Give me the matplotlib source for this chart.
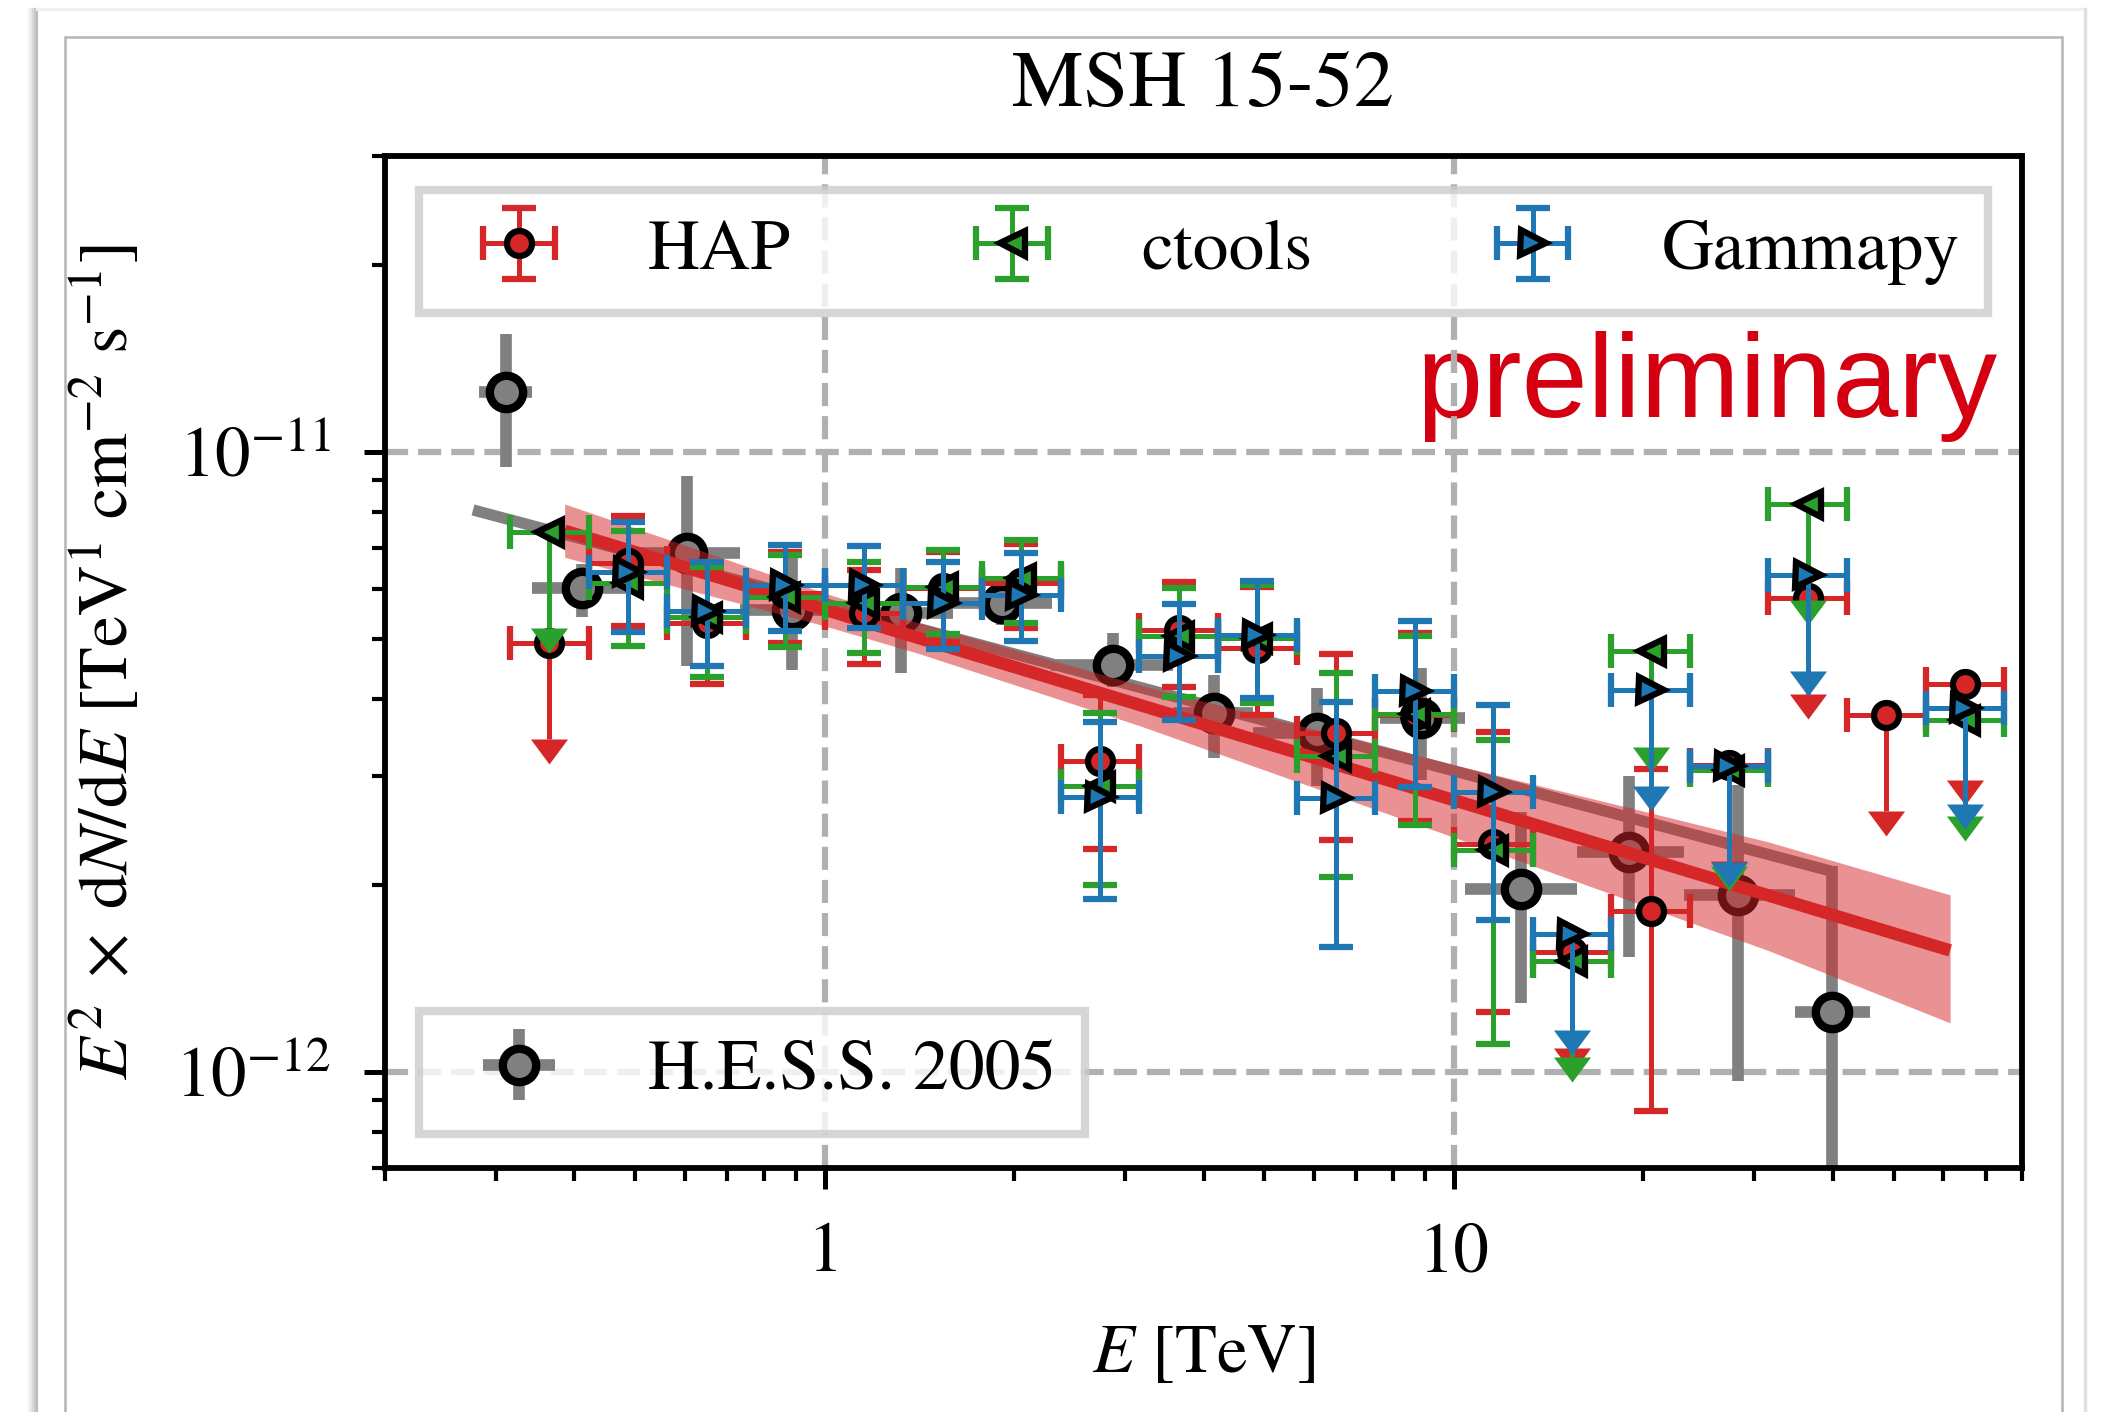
import numpy as np
import matplotlib.pyplot as plt
from matplotlib.lines import Line2D
from matplotlib.patches import Rectangle
from matplotlib.ticker import FuncFormatter, NullFormatter

plt.rcParams['font.family'] = 'serif'
plt.rcParams['font.serif'] = ['STIXGeneral', 'Liberation Serif']
plt.rcParams['mathtext.fontset'] = 'stix'
plt.rcParams['font.size'] = 17

nan = np.nan

# energy bins [TeV], 8 per decade
energy = [0.365, 0.487, 0.649, 0.866, 1.155, 1.540, 2.054, 2.738, 3.652, 4.870,
          6.494, 8.660, 11.55, 15.40, 20.54, 27.38, 36.52, 48.70, 64.94]
e_min = [0.316, 0.422, 0.562, 0.750, 1.000, 1.334, 1.778, 2.371, 3.162, 4.217,
         5.623, 7.499, 10.00, 13.34, 17.78, 23.71, 31.62, 42.17, 56.23]
e_max = [0.422, 0.562, 0.750, 1.000, 1.334, 1.778, 2.371, 3.162, 4.217, 5.623,
         7.499, 10.00, 13.34, 17.78, 23.71, 31.62, 42.17, 56.23, 74.99]

# HAP
hap_flux = [4.91e-12, 6.61e-12, 5.29e-12, 5.92e-12, 5.49e-12, 6.03e-12, 6.15e-12,
            3.17e-12, 5.16e-12, 4.82e-12, 3.52e-12, 3.77e-12, 2.33e-12, 1.56e-12,
            1.82e-12, 3.13e-12, 5.81e-12, 3.77e-12, 4.22e-12]
hap_lo = [nan, 5.24e-12, 4.22e-12, 4.91e-12, 4.55e-12, 4.94e-12, 5.20e-12,
          2.29e-12, 4.17e-12, 3.77e-12, 2.37e-12, 2.54e-12, 1.25e-12, nan,
          8.65e-13, nan, nan, nan, nan]
hap_hi = [nan, 7.89e-12, 6.45e-12, 6.90e-12, 6.45e-12, 6.90e-12, 7.10e-12,
          4.06e-12, 6.16e-12, 6.05e-12, 4.72e-12, 5.11e-12, 3.53e-12, nan,
          3.08e-12, nan, nan, nan, nan]
hap_ul = [1, 0, 0, 0, 0, 0, 0, 0, 0, 0, 0, 0, 0, 1, 0, 1, 1, 1, 1]

# ctools
ct_flux = [7.43e-12, 6.14e-12, 5.42e-12, 5.84e-12, 5.70e-12, 6.06e-12, 6.25e-12,
           2.89e-12, 5.04e-12, 5.01e-12, 3.23e-12, 3.78e-12, 2.28e-12, 1.51e-12,
           4.77e-12, 3.07e-12, 8.25e-12, nan, 3.69e-12]
ct_lo = [nan, 4.87e-12, 4.34e-12, 4.85e-12, 4.73e-12, 5.08e-12, 5.29e-12,
         2.00e-12, 4.03e-12, 3.93e-12, 2.06e-12, 2.50e-12, 1.11e-12, nan,
         nan, nan, nan, nan, nan]
ct_hi = [nan, 7.45e-12, 6.51e-12, 6.82e-12, 6.64e-12, 6.95e-12, 7.21e-12,
         3.79e-12, 6.03e-12, 6.10e-12, 4.40e-12, 5.04e-12, 3.43e-12, nan,
         nan, nan, nan, nan, nan]
ct_ul = [1, 0, 0, 0, 0, 0, 0, 0, 0, 0, 0, 0, 0, 1, 1, 1, 1, 0, 1]

# Gammapy
gp_flux = [nan, 6.41e-12, 5.53e-12, 6.10e-12, 6.10e-12, 5.70e-12, 5.88e-12,
           2.78e-12, 4.69e-12, 5.07e-12, 2.77e-12, 4.11e-12, 2.83e-12, 1.67e-12,
           4.13e-12, 3.11e-12, 6.32e-12, nan, 3.86e-12]
gp_lo = [nan, 5.13e-12, 4.52e-12, 5.14e-12, 5.20e-12, 4.81e-12, 4.96e-12,
         1.90e-12, 3.70e-12, 4.01e-12, 1.59e-12, 2.88e-12, 1.76e-12, nan,
         nan, nan, nan, nan, nan]
gp_hi = [nan, 7.72e-12, 6.65e-12, 7.08e-12, 7.04e-12, 6.65e-12, 6.86e-12,
         3.67e-12, 5.68e-12, 6.20e-12, 3.95e-12, 5.34e-12, 3.91e-12, nan,
         nan, nan, nan, nan, nan]
gp_ul = [0, 0, 0, 0, 0, 0, 0, 0, 0, 0, 0, 0, 0, 1, 1, 1, 1, 0, 1]

# H.E.S.S. 2005 flux points
hess_E = [0.312, 0.412, 0.603, 0.887, 1.32, 1.91, 2.87, 4.15, 6.05, 8.87,
          12.8, 19.0, 28.3, 39.9]
hess_E_lo = [0.282, 0.342, 0.50, 0.733, 1.08, 1.60, 2.29, 3.58, 4.8, 7.62,
             10.4, 15.7, 23.2, 34.8]
hess_E_hi = [0.342, 0.50, 0.733, 1.08, 1.60, 2.30, 3.58, 4.8, 6.83, 10.4,
             15.7, 23.2, 34.9, 45.9]
hess_F = [1.25e-11, 6.03e-12, 6.88e-12, 5.56e-12, 5.49e-12, 5.70e-12, 4.53e-12,
          3.79e-12, 3.52e-12, 3.72e-12, 1.97e-12, 2.26e-12, 1.93e-12, 1.25e-12]
hess_F_lo = [9.44e-12, 5.42e-12, 4.51e-12, 4.45e-12, 4.40e-12, 5.26e-12, 4.18e-12,
             3.21e-12, 2.89e-12, 2.96e-12, 1.29e-12, 1.53e-12, 9.66e-13, 1e-13]
hess_F_hi = [1.55e-11, 6.6e-12, 9.15e-12, 6.9e-12, 6.5e-12, 5.99e-12, 5.10e-12,
             4.37e-12, 4.16e-12, 4.48e-12, 2.63e-12, 3.00e-12, 2.90e-12, 2.15e-12]

# H.E.S.S. 2005 power law
ref_E = [0.276, 40.3]
ref_F = [8.06e-12, 2.10e-12]

# new fit + butterfly
fit_E = [0.386, 61.5]
fit_F = [7.46e-12, 1.57e-12]
band_E = [0.386, 1.0, 1.41, 3.16, 10.0, 31.6, 61.5]
band_lo = [6.76e-12, 5.24e-12, 4.73e-12, 3.62e-12, 2.39e-12, 1.57e-12, 1.20e-12]
band_hi = [8.24e-12, 5.92e-12, 5.30e-12, 4.21e-12, 3.13e-12, 2.35e-12, 1.93e-12]

ul_frac = 0.7
arrow = [(-1, 0), (1, 0), (0, -1.35)]

E = np.array(energy)
emin = np.array(e_min)
emax = np.array(e_max)

fig = plt.figure(figsize=(2102 / 300, 1412 / 300), dpi=300)
ax = fig.add_axes([385 / 2102, 1 - 1168 / 1412, 1637 / 2102, 1012 / 1412])


def draw_points(flux, lo, hi, ul, color, marker, label, z):
    f = np.array(flux)
    lo = np.array(lo)
    hi = np.array(hi)
    ul = np.array(ul, bool)
    ok = np.isfinite(f)
    det = ok & ~ul
    lim = ok & ul
    style = dict(fmt=marker, color=color, mfc=color, mec='k', ms=6, mew=1.5,
                 elinewidth=1.2, capsize=4, capthick=1.2, zorder=z)
    cont = ax.errorbar(E[det], f[det],
                       xerr=[E[det] - emin[det], emax[det] - E[det]],
                       yerr=[f[det] - lo[det], hi[det] - f[det]],
                       label=label, **style)
    ax.vlines(E[lim], f[lim] * ul_frac, f[lim], color=color, lw=1.2, zorder=z)
    ax.plot(E[lim], f[lim] * ul_frac, ls='none', marker=arrow, ms=12,
            mfc=color, mec='none', mew=0, zorder=z)
    ax.errorbar(E[lim], f[lim], xerr=[E[lim] - emin[lim], emax[lim] - E[lim]],
                **style)
    return cont


# reference (gray) below the band
hE = np.array(hess_E)
hF = np.array(hess_F)
ax.plot(ref_E, ref_F, color='gray', lw=2.7, zorder=2, solid_capstyle='butt')
h_hess = ax.errorbar(hE, hF,
                     xerr=[hE - np.array(hess_E_lo), np.array(hess_E_hi) - hE],
                     yerr=[hF - np.array(hess_F_lo), np.array(hess_F_hi) - hF],
                     fmt='o', color='gray', mfc='gray', mec='k', ms=8, mew=2,
                     elinewidth=2.8, capsize=0, zorder=2)

ax.fill_between(band_E, band_lo, band_hi, color='#d62728', alpha=0.5, lw=0, zorder=3)
ax.plot(fit_E, fit_F, color='#d62728', lw=3, zorder=4, solid_capstyle='butt')

h_hap = draw_points(hap_flux, hap_lo, hap_hi, hap_ul, '#d62728', 'o', 'HAP', 5)
h_ct = draw_points(ct_flux, ct_lo, ct_hi, ct_ul, '#2ca02c', '<', 'ctools', 6)
h_gp = draw_points(gp_flux, gp_lo, gp_hi, gp_ul, '#1f77b4', '>', 'Gammapy', 7)

ax.set_xscale('log')
ax.set_yscale('log')
ax.set_xlim(0.2, 80)
ax.set_ylim(7e-13, 3e-11)
ax.xaxis.set_major_formatter(FuncFormatter(lambda v, p: f'{v:g}'))
ax.xaxis.set_minor_formatter(NullFormatter())
ax.yaxis.set_minor_formatter(NullFormatter())
ax.tick_params(which='major', length=5, width=1.2, pad=8, labelsize=17)
ax.tick_params(which='minor', length=3.2, width=1.0)
for s in ax.spines.values():
    s.set_linewidth(1.4)
ax.grid(True, which='major', ls='--', color='#b0b0b0', lw=1.5)
ax.set_axisbelow(True)

ax.set_title('MSH 15-52', pad=12, fontsize=19.3)
ax.set_xlabel(r'$E$ [TeV]', labelpad=9, fontsize=16.5)
ax.set_ylabel(r'$E^2\;\times\;\mathrm{d}N/\mathrm{d}E$ [TeV$^1$ cm$^{-2}$ s$^{-1}$]',
              labelpad=7.5, fontsize=16.8)

ax.text(0.985, 0.742, 'preliminary', transform=ax.transAxes, ha='right',
        va='baseline', fontsize=28.5, family='Liberation Sans', color='#d40012',
        zorder=0.4)

leg1 = ax.legend([h_hap, h_ct, h_gp], ['HAP', 'ctools', 'Gammapy'],
                 loc='upper left', ncol=3, mode='expand', fancybox=False,
                 borderaxespad=0.47, fontsize=17.2)
leg1.get_frame().set_linewidth(2.0)
ax.add_artist(leg1)
leg2 = ax.legend([h_hess], ['H.E.S.S. 2005'], loc='lower left',
                 fancybox=False, borderaxespad=0.47, fontsize=17.2)
leg2.get_frame().set_linewidth(2.0)

# slide-style frame around the picture
W, H = 2102, 1412
fig.add_artist(Rectangle((65 / W, -0.05), (2062 - 65) / W, 1.05 - 37 / H,
                         transform=fig.transFigure, fill=False,
                         edgecolor='#b4b4b4', lw=0.6))
for xp, c in [(29, '#f4f4f4'), (31, '#e8e8e8'), (33, '#dadada'), (35, '#c8c8c8'),
              (37, '#bcbcbc')]:
    fig.add_artist(Line2D([xp / W, xp / W], [0, 1 - 9 / H],
                          transform=fig.transFigure, color=c, lw=0.5))
fig.add_artist(Line2D([37 / W, 2085 / W], [1 - 9 / H, 1 - 9 / H],
                      transform=fig.transFigure, color='#f0f0f0', lw=0.8))
fig.add_artist(Line2D([2085 / W, 2085 / W], [0, 1 - 9 / H],
                      transform=fig.transFigure, color='#e0e0e0', lw=0.8))

fig.savefig('out.png', dpi=300)
